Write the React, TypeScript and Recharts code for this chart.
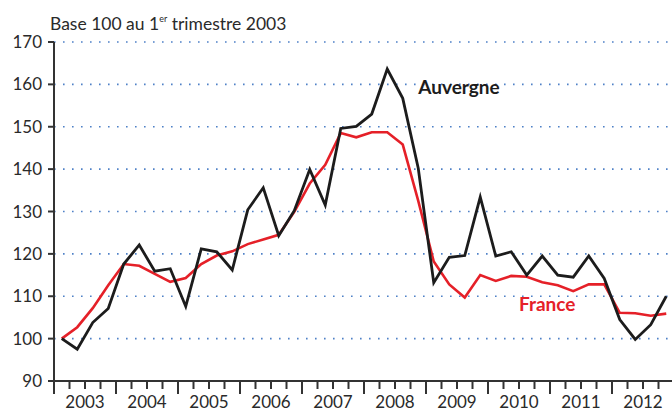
import React from 'react';
import { LineChart, Line, XAxis, YAxis, CartesianGrid, ReferenceDot } from 'recharts';

const years = [2003, 2004, 2005, 2006, 2007, 2008, 2009, 2010, 2011, 2012];
const auvergne = [
  100, 97.5, 103.8, 107.1,
  117.6, 122.1, 115.9, 116.5,
  107.6, 121.2, 120.5, 116.2,
  130.4, 135.6, 124.3, 130.2,
  139.9, 131.5, 149.6, 150.1,
  153.0, 163.6, 156.7, 140.2,
  113.2, 119.2, 119.6, 133.4,
  119.5, 120.5, 115.0, 119.5,
  115.0, 114.5, 119.5, 114.2,
  104.5, 99.8, 103.3, 110.0,
];
const france = [
  100, 102.7, 107.2, 112.6,
  117.6, 117.2, 115.3, 113.4,
  114.3, 117.6, 119.6, 120.6,
  122.3, 123.4, 124.5, 129.9,
  136.6, 141.0, 148.5, 147.5,
  148.7, 148.7, 145.8, 132.5,
  118.2, 112.8, 109.7, 115.0,
  113.6, 114.8, 114.6, 113.3,
  112.6, 111.2, 112.8, 112.8,
  106.1, 106.0, 105.4, 105.9,
];
const yTicks = [90, 100, 110, 120, 130, 140, 150, 160, 170];

const data = auvergne.map((a, i) => ({ i, auvergne: a, france: france[i] }));
const xTicks = Array.from({ length: years.length * 4 + 1 }, (_, k) => k - 0.5);

const FONT = 'Lato, "Open Sans", sans-serif';
const INK = '#2a2a2a';

const XTick = (props: any) => {
  const { x, y, payload } = props;
  const k = Math.round(payload.value + 0.5);
  const major = k % 4 === 0;
  const label = k % 4 === 2 ? years[(k - 2) / 4] : null;
  return (
    <g>
      <line x1={x} x2={x} y1={y} y2={y + (major ? 13 : 8)} stroke="#333" strokeWidth={2} />
      {label !== null && label !== undefined && (
        <text x={x} y={y + 27} textAnchor="middle" fontSize={17} fontFamily={FONT} fill={INK}>
          {label}
        </text>
      )}
    </g>
  );
};

const seriesLabel = (text: string, color: string) => (props: any) => {
  const vb = props.viewBox || {};
  return (
    <text x={vb.x} y={vb.y} textAnchor="start" fontSize={19} fontWeight={700} fontFamily={FONT} fill={color}>
      {text}
    </text>
  );
};

export default function App() {
  return (
    <div style={{ position: 'absolute', left: 0, top: 0, width: 672, height: 412, overflow: 'hidden', background: '#fff' }}>
      <svg style={{ position: 'absolute', left: 0, top: 0 }} width={672} height={40}>
        <text x={50} y={29.5} fontSize={17.5} fontFamily={FONT} fill={INK}>
          Base 100 au 1<tspan fontSize={9} dy={-8}>er</tspan>
          <tspan dy={8}> trimestre 2003</tspan>
        </text>
      </svg>
      <div style={{ position: 'absolute', left: 0, top: 0 }}>
        <LineChart width={674} height={412} data={data} margin={{ top: 42, right: 0, bottom: 0, left: 0 }}>
          <CartesianGrid vertical={false} stroke="#4f81c7" strokeWidth={1.6} strokeDasharray="1.6 7.4" />
          <XAxis
            dataKey="i"
            type="number"
            domain={[-0.5, 39.5]}
            ticks={xTicks}
            interval={0}
            height={31}
            tickSize={0}
            tickMargin={0}
            tickLine={false}
            axisLine={{ stroke: '#333', strokeWidth: 2 }}
            tick={<XTick />}
          />
          <YAxis
            domain={[90, 170]}
            ticks={yTicks}
            interval={0}
            width={54}
            tickSize={6}
            tickMargin={6}
            axisLine={{ stroke: '#333', strokeWidth: 2 }}
            tickLine={{ stroke: '#333', strokeWidth: 2 }}
            tick={{ fontSize: 17, fontFamily: FONT, fill: INK }}
          />
          <Line dataKey="france" stroke="#e52028" strokeWidth={2.6} dot={false} isAnimationActive={false} />
          <Line dataKey="auvergne" stroke="#1c1c1c" strokeWidth={2.8} dot={false} isAnimationActive={false} />
          <ReferenceDot x={23.0} y={157.7} r={0} ifOverflow="visible" label={seriesLabel('Auvergne', '#1c1c1c')} />
          <ReferenceDot x={29.5} y={106.6} r={0} ifOverflow="visible" label={seriesLabel('France', '#e52028')} />
        </LineChart>
      </div>
    </div>
  );
}
